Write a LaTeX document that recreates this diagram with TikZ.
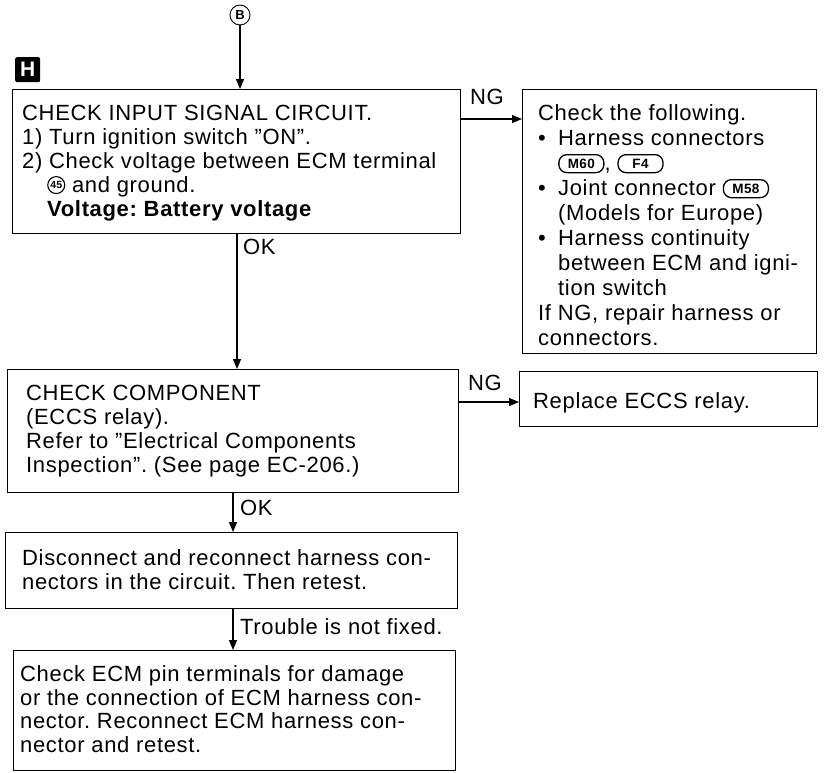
\documentclass[tikz,border=0pt]{standalone}
\usepackage{fontspec}
\setmainfont{Liberation Sans}[LetterSpace=3]
\usetikzlibrary{arrows.meta}
\newcommand\mconn[1]{\tikz[baseline={([yshift=-7pt]cc.center)}]\node[draw,line width=1.3pt,rounded corners=8pt,minimum width=45pt,minimum height=18pt,inner sep=1pt,font=\bfseries\fontsize{13.5}{13.5}\selectfont](cc){#1};}
\newcommand\cnum[1]{\tikz[baseline={([yshift=-7pt]cn.center)}]\node[draw,circle,line width=1.1pt,inner sep=0.5pt,minimum size=17pt,font=\bfseries\fontsize{10.5}{10.5}\selectfont](cn){#1};}
\newcommand\bl{\makebox[20pt][l]{\textbullet}}
\newcommand\ind{\hspace*{20pt}}
\begin{document}
\frenchspacing
\begin{tikzpicture}[x=1pt,y=-1pt,
  box/.style={draw,line width=1.3pt,inner sep=0pt,anchor=north west},
  txt/.style={anchor=north west,inner sep=0pt,align=left,font=\fontsize{22}{24}\selectfont},
  lbl/.style={inner sep=0pt,anchor=base west,font=\fontsize{22}{24}\selectfont},
  arr/.style={line width=1.3pt,-{Triangle[length=10pt,width=8pt]}}]
\useasboundingbox (0,0) rectangle (827,772);
% marker and H icon
\node[circle,draw,line width=0.9pt,minimum size=20pt,inner sep=0pt,font=\bfseries\fontsize{13}{13}\selectfont] (B) at (240,15) {B};
\node[fill=black,rounded corners=2pt,minimum size=25pt,inner sep=0pt,anchor=north west,text=white,font=\bfseries\fontsize{21}{21}\selectfont] (H) at (15,57) {H};
% boxes
\node[box,minimum width=448pt,minimum height=144pt] (b1) at (12,89) {};
\node[box,minimum width=294pt,minimum height=264pt] (b2) at (522,89) {};
\node[box,minimum width=451pt,minimum height=123pt] (b3) at (7,369) {};
\node[box,minimum width=298pt,minimum height=55pt] (rep) at (519,371) {};
\node[box,minimum width=452pt,minimum height=76pt] (b4) at (5,532) {};
\node[box,minimum width=442pt,minimum height=120pt] (b5) at (13,650) {};
% texts
\node[txt] (t1) at (22,104.5) {CHECK INPUT SIGNAL CIRCUIT.\\
1) Turn ignition switch ''ON''.\\
2) Check voltage between ECM terminal\\
\hspace*{25pt}\cnum{45} and ground.\\
\hspace*{25pt}\textbf{Voltage: Battery voltage}};
\node[txt,font=\fontsize{22}{25}\selectfont] (t2) at (538,104.5) {Check the following.\\
\bl Harness connectors\\
\ind\mconn{M60}, \mconn{F4}\\
\bl Joint connector \mconn{M58}\\
\ind(Models for Europe)\\
\bl Harness continuity\\
\ind between ECM and igni-\\
\ind tion switch\\
If NG, repair harness or\\
connectors.};
\node[txt] (t3) at (26,384.5) {CHECK COMPONENT\\
(ECCS relay).\\
Refer to ''Electrical Components\\
Inspection''. (See page EC-206.)};
\node[txt] (tr) at (533,392.5) {Replace ECCS relay.};
\node[txt] (t4) at (22,549.5) {Disconnect and reconnect harness con-\\
nectors in the circuit. Then retest.};
\node[txt,font=\fontsize{22}{23.5}\selectfont] (t5) at (20,665.5) {Check ECM pin terminals for damage\\
or the connection of ECM harness con-\\
nector. Reconnect ECM harness con-\\
nector and retest.};
% connectors
\coordinate (okx) at (237,0);
\coordinate (okx2) at (233,0);
\draw[arr] (B.south) -- (B.south |- b1.north);
\draw[arr] ([yshift=-30pt]b1.north east) -- ([yshift=-30pt]b1.north east -| b2.west);
\draw[arr] (b1.south -| okx) -- (b3.north -| okx);
\draw[arr] ([yshift=-33pt]b3.north east) -- ([yshift=-33pt]b3.north east -| rep.west);
\draw[arr] (b3.south -| okx2) -- (b4.north -| okx2);
\draw[arr] (b4.south -| okx2) -- (b5.north -| okx2);
% labels
\node[lbl] (ng1) at (470,104.5) {NG};
\node[lbl] (ok1) at (243,254) {OK};
\node[lbl] (ng2) at (468,390) {NG};
\node[lbl] (ok2) at (240,515) {OK};
\node[lbl] (tnf) at (240,634.5) {Trouble is not fixed.};
\end{tikzpicture}
\end{document}
